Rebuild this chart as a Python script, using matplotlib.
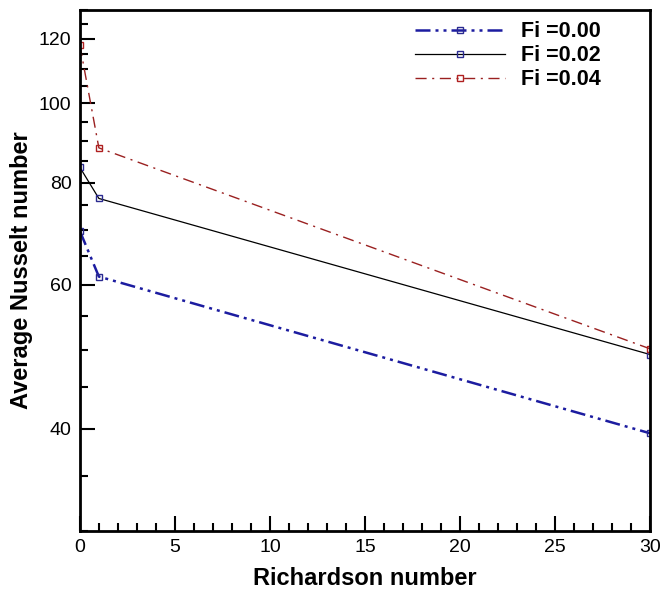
import numpy as np
import matplotlib
matplotlib.use("Agg")
import matplotlib.pyplot as plt
from matplotlib.ticker import FixedLocator, NullFormatter

plt.rcParams['font.family'] = ['Liberation Sans', 'DejaVu Sans']

# data
richardson = [0, 1, 30]
nu_fi000 = [69.8, 61.4, 39.5]
nu_fi002 = [83.5, 76.5, 49.3]
nu_fi004 = [117.8, 88.2, 50.1]
labels = ['Fi =0.00', 'Fi =0.02', 'Fi =0.04']

yticks = [40, 60, 80, 100, 120]
yminor = [v for v in range(30, 131, 5) if v not in yticks]

fig = plt.figure(figsize=(6.6, 5.92), dpi=100)
ax = fig.add_axes([0.121, 0.103, 0.864, 0.880])

ax.plot(richardson, nu_fi000, color='#1c1ca0', lw=1.8, dashes=[6, 2, 1.2, 2, 1.2, 2],
        marker='s', ms=5, mfc='none', mec='#2a2a90', mew=1.0, label=labels[0])
ax.plot(richardson, nu_fi002, color='black', lw=0.9, ls='-',
        marker='s', ms=5, mfc='none', mec='#2a2a90', mew=1.0, label=labels[1])
ax.plot(richardson, nu_fi004, color='#9a2020', lw=1.0, dashes=[8, 4, 1.5, 4],
        marker='s', ms=5, mfc='none', mec='#b02020', mew=1.0, label=labels[2])

ax.set_yscale('log')
ax.set_xlim(0, 30)
ax.set_ylim(30, 130)
ax.yaxis.set_major_locator(FixedLocator(yticks))
ax.yaxis.set_minor_locator(FixedLocator(yminor))
ax.set_yticklabels([str(v) for v in yticks])
ax.yaxis.set_minor_formatter(NullFormatter())
ax.set_xticks(range(0, 31, 5))
ax.set_xticks(range(0, 31, 1), minor=True)

ax.tick_params(which='both', direction='in', top=False, right=False, labelsize=14, width=1.5)
ax.tick_params(which='major', length=11, pad=6)
ax.tick_params(which='minor', length=6)
for s in ax.spines.values():
    s.set_linewidth(2)

ax.set_xlabel('Richardson number', fontsize=17, fontweight='bold', labelpad=8)
ax.set_ylabel('Average Nusselt number', fontsize=17, fontweight='bold', labelpad=4)

leg = ax.legend(loc='upper right', bbox_to_anchor=(0.948, 1.016), frameon=False,
                handlelength=4.2, handletextpad=0.75, labelspacing=0.14,
                prop={'size': 15.5, 'weight': 'bold'})

fig.savefig('out.png', dpi=100)
